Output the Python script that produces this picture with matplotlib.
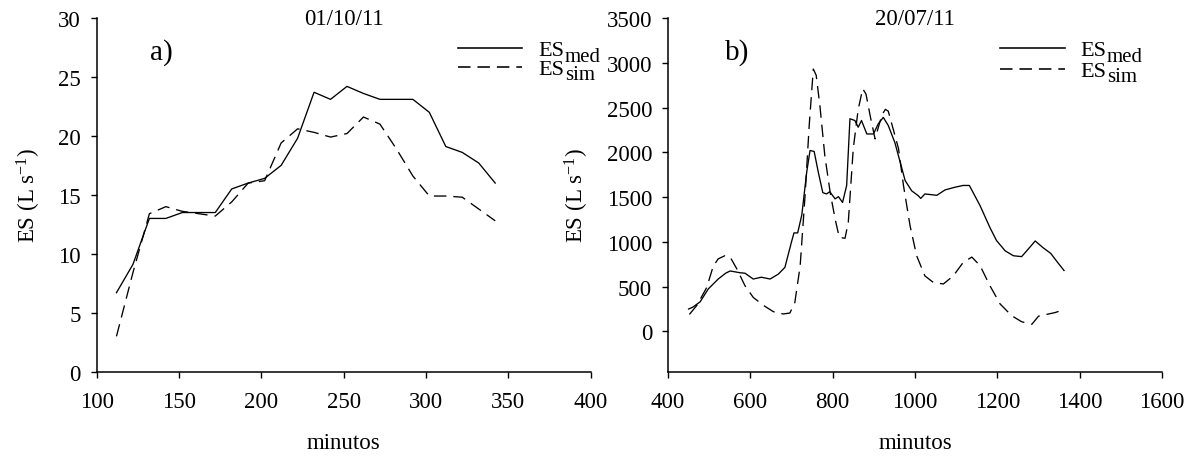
import matplotlib
matplotlib.use("Agg")
import matplotlib.pyplot as plt
from matplotlib.lines import Line2D

plt.rcParams["font.family"] = ["Liberation Serif", "DejaVu Serif"]
plt.rcParams["mathtext.fontset"] = "custom"
plt.rcParams["mathtext.rm"] = "Liberation Serif"
plt.rcParams["mathtext.it"] = "Liberation Serif:italic"
plt.rcParams["lines.scale_dashes"] = False

# ---- event of 01/10/11 ----
t_a = [112, 122, 132, 142, 152, 162, 172, 182, 192, 202, 212, 222,
       232, 242, 252, 262, 272, 282, 292, 302, 312, 322, 332, 342]
med_a = [6.7, 9.1, 13.0, 13.0, 13.5, 13.5, 13.5, 15.5, 16.0, 16.4, 17.5, 19.8,
         23.7, 23.1, 24.2, 23.6, 23.1, 23.1, 23.1, 22.0, 19.1, 18.6, 17.7, 16.0]
sim_a = [3.0, 8.4, 13.4, 14.0, 13.6, 13.4, 13.2, 14.4, 16.0, 16.2, 19.4, 20.6,
         20.3, 19.9, 20.2, 21.6, 21.0, 18.9, 16.6, 14.9, 14.9, 14.8, 13.8, 12.8]

# ---- event of 20/07/11 ----
t_b_med = [450, 460, 478, 498, 522, 540, 551, 575, 587, 607, 627, 648, 668, 684, 700,
           706, 715, 725, 737, 745, 755, 765, 776, 785, 793, 806, 814, 824, 834, 842,
           854, 862, 870, 883, 899, 911, 923, 935, 951, 964, 976, 992, 1008, 1014, 1024,
           1053, 1073, 1097, 1117, 1132, 1158, 1182, 1198, 1219, 1239, 1259, 1279, 1292,
           1311, 1330, 1344, 1362]
med_b = [250, 270, 330, 475, 585, 650, 675, 655, 650, 585, 605, 585, 640, 715, 1000,
         1100, 1100, 1300, 1780, 2020, 2010, 1780, 1550, 1535, 1560, 1480, 1505, 1440, 1630, 2375,
         2355, 2280, 2355, 2205, 2205, 2320, 2390, 2300, 2110, 1890, 1685, 1570, 1515, 1485, 1535,
         1520, 1580, 1610, 1630, 1630, 1405, 1160, 1015, 900, 845, 835, 940, 1010,
         935, 870, 785, 680]
t_b_sim = [452, 470, 494, 510, 522, 538, 551, 567, 587, 607, 632, 656, 680, 696, 708,
           721, 733, 743, 753, 760, 769, 781, 794, 806, 816, 830, 838, 850, 862, 873,
           881, 891, 903, 911, 920, 928, 935, 947, 960, 972, 988, 1004, 1024, 1045, 1069,
           1093, 1117, 1138, 1158, 1182, 1207, 1235, 1259, 1284, 1300, 1320, 1340, 1350, 1362]
sim_b = [190, 290, 490, 730, 810, 845, 830, 700, 510, 380, 290, 220, 195, 205, 320,
         730, 1520, 2300, 2930, 2860, 2520, 1960, 1550, 1255, 1050, 1040, 1220, 2040, 2480, 2710,
         2650, 2410, 2150, 2280, 2420, 2480, 2460, 2260, 2040, 1630, 1180, 845, 620, 545, 530,
         620, 770, 830, 735, 510, 305, 175, 108, 80, 170, 190, 210, 225, 185]

W, H = 1192, 464
fig = plt.figure(figsize=(W / 100, H / 100), dpi=100)
renderer = fig.canvas.get_renderer()


def px_axes(x0, x1, y_top, y_bot):
    return fig.add_axes([x0 / W, (H - y_bot) / H, (x1 - x0) / W, (y_bot - y_top) / H])


def fx(x):
    return x / W


def fy(y):
    return (H - y) / H


ax_a = px_axes(96.7, 590.7, 19, 372.7)
ax_b = px_axes(668, 1162, 19, 372.7)

FS = 16.5
KEY_FS = 16
SUB_FS = 15
DASH = (9, 5)
LW = 0.95


def key(x0, x1, xtext, rows):
    """Key in figure pixels: line sample, 'ES' and a lowered suffix at near full size."""
    for y, dashes, sub in rows:
        ln = Line2D([fx(x0), fx(x1)], [fy(y)] * 2, transform=fig.transFigure,
                    color="black", lw=LW + 0.2)
        if dashes:
            ln.set_dashes(dashes)
        fig.add_artist(ln)
        es = fig.text(fx(xtext), fy(y + 7), "ES", fontsize=KEY_FS,
                      ha="left", va="baseline")
        bb = es.get_window_extent(renderer)
        fig.text(bb.x1 / W + fx(1), fy(y + 12.5), sub, fontsize=SUB_FS,
                 ha="left", va="baseline")


panels = [
    (ax_a, t_a, med_a, t_a, sim_a, (100, 400), range(100, 401, 50),
     (0, 30), range(0, 31, 5), "01/10/11", "a)", 0.13),
    (ax_b, t_b_med, med_b, t_b_sim, sim_b, (400, 1600), range(400, 1601, 200),
     (-450, 3500), range(0, 3501, 500), "20/07/11", "b)", 0.14),
]

for ax, tm, vm, ts, vs, xl, xt, yl, yt, title, tag, tag_x in panels:
    ax.plot(tm, vm, color="black", lw=LW)
    ax.plot(ts, vs, color="black", lw=LW, dashes=DASH)
    ax.set_xlim(*xl)
    ax.set_ylim(*yl)
    ax.set_xticks(list(xt))
    ax.set_yticks(list(yt))
    for side in ("top", "right"):
        ax.spines[side].set_visible(False)
    for side in ("left", "bottom"):
        ax.spines[side].set_linewidth(1.1)
    ax.tick_params(direction="out", length=4, width=1.0, labelsize=FS)
    ax.tick_params(axis="x", pad=10)
    ax.tick_params(axis="y", pad=7.5)
    ax.set_xlabel("minutos", fontsize=FS, labelpad=14)
    ax.set_ylabel(r"ES (L s$^{-1}$)", fontsize=FS, labelpad=11)
    ax.set_title(title, fontsize=FS, pad=-4, y=1.0)
    ax.text(tag_x, 0.905, tag, transform=ax.transAxes, fontsize=21,
            ha="center", va="center")

key(458, 522, 538, [(49, None, "med"), (68, DASH, "sim")])
key(1000, 1065, 1080, [(49, None, "med"), (70, DASH, "sim")])

fig.savefig("out.png", dpi=100)
